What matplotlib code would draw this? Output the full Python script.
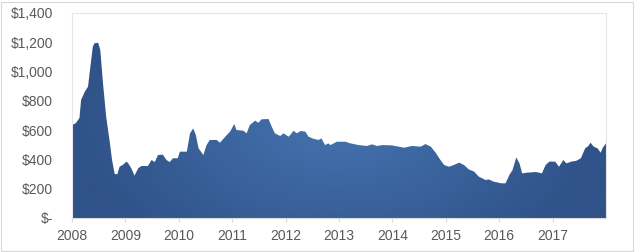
import numpy as np
import matplotlib
matplotlib.use("Agg")
import matplotlib.pyplot as plt
from matplotlib.colors import LinearSegmentedColormap

# decimal-year positions and prices ($)
years = [2008.00, 2008.07, 2008.14, 2008.17, 2008.24, 2008.30, 2008.33, 2008.39, 2008.42,
         2008.49, 2008.53, 2008.58, 2008.64, 2008.71, 2008.75, 2008.80, 2008.85, 2008.89,
         2008.95, 2009.02, 2009.05, 2009.11, 2009.17, 2009.24, 2009.30, 2009.42, 2009.49,
         2009.55, 2009.61, 2009.70, 2009.77, 2009.83, 2009.89, 2009.98, 2010.02, 2010.15,
         2010.21, 2010.27, 2010.32, 2010.37, 2010.46, 2010.52, 2010.58, 2010.71, 2010.77,
         2010.87, 2010.96, 2011.04, 2011.08, 2011.21, 2011.27, 2011.33, 2011.43, 2011.49,
         2011.55, 2011.68, 2011.74, 2011.80, 2011.90, 2011.96, 2012.06, 2012.15, 2012.21,
         2012.28, 2012.37, 2012.43, 2012.53, 2012.62, 2012.67, 2012.74, 2012.80, 2012.84,
         2012.96, 2013.12, 2013.21, 2013.37, 2013.52, 2013.62, 2013.71, 2013.81, 2013.99,
         2014.12, 2014.22, 2014.37, 2014.53, 2014.62, 2014.72, 2014.81, 2014.90, 2014.97,
         2015.06, 2015.15, 2015.25, 2015.34, 2015.43, 2015.53, 2015.62, 2015.75, 2015.80,
         2015.90, 2015.99, 2016.03, 2016.12, 2016.19, 2016.25, 2016.32, 2016.38, 2016.43,
         2016.53, 2016.69, 2016.80, 2016.87, 2016.94, 2017.05, 2017.12, 2017.20, 2017.26,
         2017.35, 2017.44, 2017.53, 2017.61, 2017.67, 2017.71, 2017.77, 2017.84, 2017.90,
         2017.94, 2018.00]
prices = [635, 647, 683, 806, 863, 897, 990, 1170, 1193,
          1197, 1147, 922, 692, 512, 396, 300, 300, 350,
          362, 385, 375, 340, 289, 340, 355, 355, 396,
          382, 430, 433, 396, 382, 408, 408, 453, 453,
          578, 612, 567, 476, 430, 498, 533, 533, 514,
          555, 590, 642, 601, 596, 578, 635, 665, 650,
          674, 676, 624, 578, 560, 578, 555, 596, 578,
          594, 590, 555, 540, 533, 544, 498, 510, 498,
          521, 521, 510, 498, 492, 503, 492, 498, 496,
          487, 480, 492, 487, 505, 487, 446, 396, 362,
          350, 362, 378, 362, 332, 317, 282, 259, 264,
          248, 241, 237, 237, 294, 328, 414, 373, 305,
          310, 314, 305, 362, 385, 385, 350, 396, 373,
          385, 390, 408, 476, 492, 514, 487, 476, 446,
          480, 510]
year_ticks = list(range(2008, 2018))
y_ticks = [0, 200, 400, 600, 800, 1000, 1200, 1400]
y_labels = ["$-", "$200", "$400", "$600", "$800", "$1,000", "$1,200", "$1,400"]

plt.rcParams['font.family'] = ['Liberation Sans', 'DejaVu Sans']
fig = plt.figure(figsize=(6.35, 2.52), dpi=100)
ax = fig.add_axes([72/635, 1-218/252, (606-72)/635, (218-13)/252])

x = np.array(years)
y = np.array(prices)
poly = ax.fill_between(x, 0, y, facecolor='none', edgecolor='none')

# gradient image: dark at edges, lighter toward center
nx, ny = 400, 200
gx = np.linspace(-1, 1, nx)
gy = np.linspace(-1, 1, ny)
GX, GY = np.meshgrid(gx, gy)
r = np.clip(np.sqrt(GX**2 * 1.0 + (GY * 0.6)**2), 0, 1)
cmap = LinearSegmentedColormap.from_list('g', ['#4674b1', '#2f5288'])
im = ax.imshow(r, cmap=cmap, extent=[2008, 2018, 0, 1400], origin='lower',
               aspect='auto', zorder=2, vmin=0, vmax=1)
path = poly.get_paths()[0]
im.set_clip_path(path, transform=ax.transData)

ax.set_xlim(2008, 2018)
ax.set_ylim(0, 1400)
ax.set_xticks(year_ticks)
ax.set_xticklabels([str(v) for v in year_ticks])
ax.set_yticks(y_ticks)
ax.set_yticklabels(y_labels)
ax.tick_params(axis='y', length=0, pad=13.7, labelsize=10, colors='#595959')
ax.tick_params(axis='x', length=3, width=0.8, color='#d9d9d9', pad=5,
               labelsize=10, labelcolor='#595959')
for s in ['top', 'left', 'right']:
    ax.spines[s].set_color('#e6e6e6')
    ax.spines[s].set_linewidth(0.8)
ax.spines['bottom'].set_color('#d9d9d9')
ax.spines['bottom'].set_linewidth(0.8)

# outer chart border
fig.patches.append(plt.Rectangle((1/635, 1/252), 632/635, 249/252, transform=fig.transFigure,
                                 fill=False, edgecolor='#d9d9d9', linewidth=0.8))

fig.savefig('out.png', dpi=100)
